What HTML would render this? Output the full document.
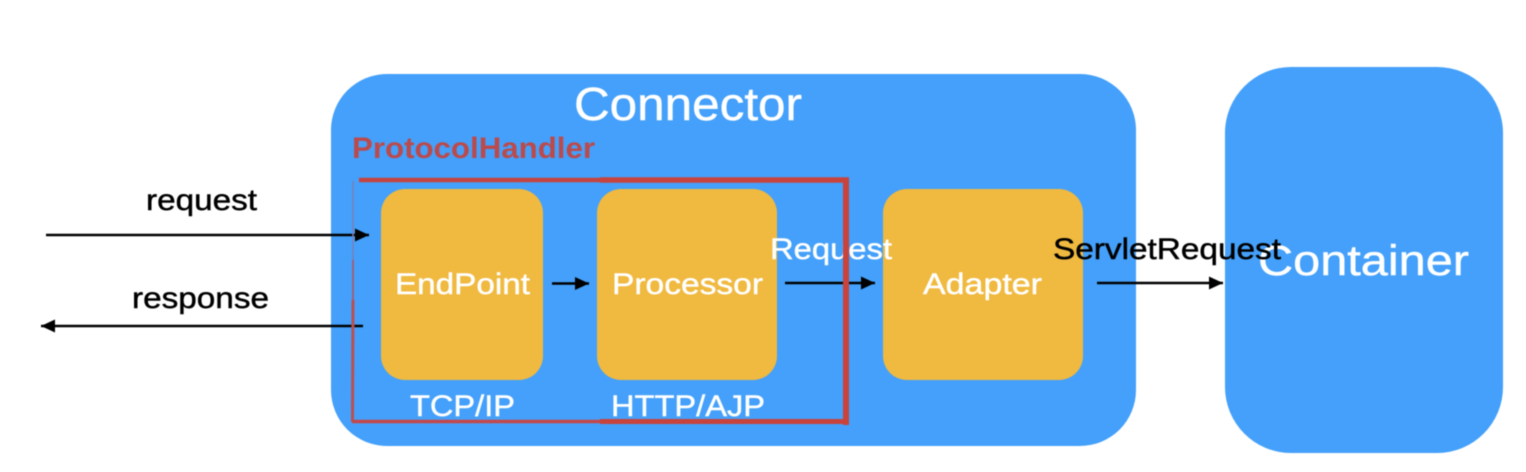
<!DOCTYPE html>
<html>
<head>
<meta charset="utf-8">
<style>
html,body{margin:0;padding:0;background:#fff;width:1526px;height:472px;overflow:hidden}
svg{display:block;filter:blur(0.45px)}
text{font-family:"Liberation Sans",sans-serif;stroke-width:.45px}
.w{fill:#fff;stroke:#fff}
.b{fill:#000;stroke:#000}
</style>
</head>
<body>
<svg width="1526" height="472" viewBox="0 0 1526 472" xmlns="http://www.w3.org/2000/svg">
<defs>
<marker id="a" markerWidth="15" markerHeight="14" refX="14" refY="7" orient="auto" markerUnits="userSpaceOnUse"><path d="M0,0.5 L14,7 L0,13.5 Z" fill="#000"/></marker>
</defs>
<rect width="1526" height="472" fill="#fff"/>
<rect x="331" y="74" width="805" height="372" rx="56" fill="#44a0fa"/>
<rect x="1225" y="67" width="278" height="386" rx="66" fill="#44a0fa"/>
<rect x="381" y="189" width="162" height="191" rx="24" fill="#f0b93f"/>
<rect x="597" y="189" width="180" height="191" rx="24" fill="#f0b93f"/>
<rect x="883" y="189" width="200" height="191" rx="24" fill="#f0b93f"/>

<text class="w" x="574" y="120" font-size="46" textLength="228" lengthAdjust="spacingAndGlyphs">Connector</text>
<text x="352" y="158" font-size="30" font-weight="bold" fill="#bb4a4c" textLength="243" lengthAdjust="spacingAndGlyphs">ProtocolHandler</text>
<text class="w" x="395" y="294" font-size="30" textLength="135" lengthAdjust="spacingAndGlyphs">EndPoint</text>
<text class="w" x="612" y="294" font-size="30" textLength="151" lengthAdjust="spacingAndGlyphs">Processor</text>
<text class="w" x="923" y="294" font-size="30" textLength="119" lengthAdjust="spacingAndGlyphs">Adapter</text>
<text class="w" x="410" y="416" font-size="30" textLength="105" lengthAdjust="spacingAndGlyphs">TCP/IP</text>
<text class="w" x="611" y="416" font-size="30" textLength="154" lengthAdjust="spacingAndGlyphs">HTTP/AJP</text>
<text class="w" x="1258" y="275" font-size="43" textLength="211" lengthAdjust="spacingAndGlyphs">Container</text>
<text class="w" x="770" y="259" font-size="30" textLength="122" lengthAdjust="spacingAndGlyphs">Request</text>
<text class="b" x="1053" y="259" font-size="30" textLength="228" lengthAdjust="spacingAndGlyphs">ServletRequest</text>
<text class="b" x="146" y="210" font-size="30" textLength="111" lengthAdjust="spacingAndGlyphs">request</text>
<text class="b" x="132" y="308" font-size="30" textLength="137" lengthAdjust="spacingAndGlyphs">response</text>

<g stroke="#000" stroke-width="2.5" fill="none">
<line x1="46" y1="235" x2="369" y2="235" marker-end="url(#a)"/>
<line x1="363" y1="326" x2="41" y2="326" marker-end="url(#a)"/>
<line x1="552" y1="283.5" x2="589" y2="283.5" marker-end="url(#a)"/>
<line x1="785" y1="283" x2="875" y2="283" marker-end="url(#a)"/>
<line x1="1097" y1="283" x2="1223" y2="283" marker-end="url(#a)"/>
</g>

<g fill="none">
<path d="M359,180 H600" stroke="#c5443f" stroke-width="4.5"/>
<path d="M600,180 H849" stroke="#c8433c" stroke-width="5.5"/>
<path d="M846,177.5 V425" stroke="#c8433c" stroke-width="6"/>
<path d="M352,421.5 H600" stroke="#c4474a" stroke-width="3.5"/>
<path d="M600,421.5 H849" stroke="#c8433c" stroke-width="5"/>
<path d="M353,181 V260" stroke="#7c7fb4" stroke-width="1.5"/>
<path d="M353,260 V300" stroke="#a0607c" stroke-width="2"/>
<path d="M353,300 L352.5,422" stroke="#bb4f50" stroke-width="3"/>
</g>
</svg>
</body>
</html>
